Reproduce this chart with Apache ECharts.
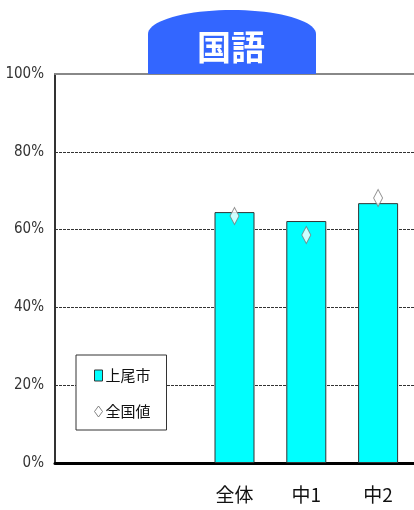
<!DOCTYPE html>
<html>
<head>
<meta charset="utf-8">
<script src="https://cdn.jsdelivr.net/npm/echarts@6/dist/echarts.min.js"></script>
<style>
  html, body { margin: 0; padding: 0; background: #fff; }
  #chart { width: 414px; height: 510px; }
</style>
</head>
<body>
<div id="chart"></div>
<script>
// Categories (the two leading slots are intentionally blank)
var categories = ['', '', '全体', '中1', '中2'];
// 上尾市 results (%)
var ageoValues = ['-', '-', 64.5, 62.2, 66.8];
// 全国値 (national average, %)
var nationalValues = ['-', '-', 63.5, 58.6, 68.1];
// Y-axis ticks
var yTicks = [0, 20, 40, 60, 80, 100];

var chart = echarts.init(document.getElementById('chart'), null, { renderer: 'canvas' });

var labelFont = '"DejaVu Sans Condensed", "Liberation Sans Narrow", "Liberation Sans", sans-serif';
var cjkFont = '"Noto Sans CJK JP", sans-serif';

// Title tab outline: flat bottom, vertical sides, elliptical top
function tabPoints(x0, x1, yBottom, ySide, yTop) {
  var pts = [[x0, yBottom], [x0, ySide]];
  var cx = (x0 + x1) / 2, rx = (x1 - x0) / 2, ry = ySide - yTop;
  for (var i = 1; i < 40; i++) {
    var a = Math.PI - Math.PI * i / 40;
    pts.push([cx + rx * Math.cos(a), ySide - ry * Math.sin(a)]);
  }
  pts.push([x1, ySide], [x1, yBottom]);
  return pts;
}

chart.setOption({
  animation: false,
  backgroundColor: '#ffffff',
  grid: { left: 55, top: 74, width: 360, height: 389, containLabel: false },
  legend: {
    orient: 'vertical',
    left: 76,
    top: 355,
    backgroundColor: '#ffffff',
    borderColor: '#333333',
    borderWidth: 1,
    borderRadius: 0,
    padding: [12, 16, 10, 18],
    itemGap: 19,
    itemWidth: 8,
    itemHeight: 11,
    textStyle: { fontFamily: cjkFont, fontSize: 15, lineHeight: 17, color: '#111', padding: [0, 0, 0, -2] },
    data: [
      { name: '上尾市', icon: 'rect', itemStyle: { color: '#00ffff', borderColor: '#333', borderWidth: 1 } },
      { name: '全国値', icon: 'diamond', itemStyle: { color: '#ffffff', borderColor: '#666', borderWidth: 1 } }
    ]
  },
  xAxis: [
    {
      type: 'category',
      data: categories,
      position: 'bottom',
      axisLine: { show: true, lineStyle: { color: '#000', width: 3 } },
      axisTick: { show: false },
      axisLabel: { fontFamily: cjkFont, fontSize: 19, color: '#111', margin: 22 },
      splitLine: { show: false }
    },
    {
      type: 'category',
      data: categories,
      position: 'top',
      axisLine: { show: true, lineStyle: { color: '#888', width: 2 } },
      axisTick: { show: false },
      axisLabel: { show: false }
    }
  ],
  yAxis: {
    type: 'value',
    min: yTicks[0],
    max: yTicks[yTicks.length - 1],
    interval: 20,
    axisLine: { show: true, lineStyle: { color: '#333', width: 2 } },
    axisTick: { show: false },
    axisLabel: {
      formatter: '{value}%',
      fontFamily: labelFont,
      fontSize: 15,
      color: '#333',
      margin: 11
    },
    splitLine: { show: true, lineStyle: { color: '#333', width: 1, type: [3, 1] } }
  },
  series: [
    {
      name: '上尾市',
      type: 'bar',
      data: ageoValues,
      barWidth: 40,
      itemStyle: { color: '#00ffff', borderColor: '#333', borderWidth: 1 },
      z: 2
    },
    {
      name: '全国値',
      type: 'scatter',
      data: nationalValues,
      symbol: 'diamond',
      symbolSize: [9, 17],
      itemStyle: { color: '#ffffff', borderColor: '#777', borderWidth: 1 },
      z: 3
    }
  ],
  graphic: [
    {
      type: 'polygon',
      shape: { points: tabPoints(148, 316, 74, 34, 10) },
      style: { fill: '#3366ff' },
      z: 10
    },
    {
      type: 'text',
      x: 231,
      y: 47,
      style: {
        text: '国語',
        fontFamily: cjkFont,
        fontWeight: 'bold',
        fontSize: 34,
        fill: '#ffffff',
        align: 'center',
        verticalAlign: 'middle'
      },
      z: 11
    }
  ]
});
</script>
</body>
</html>
